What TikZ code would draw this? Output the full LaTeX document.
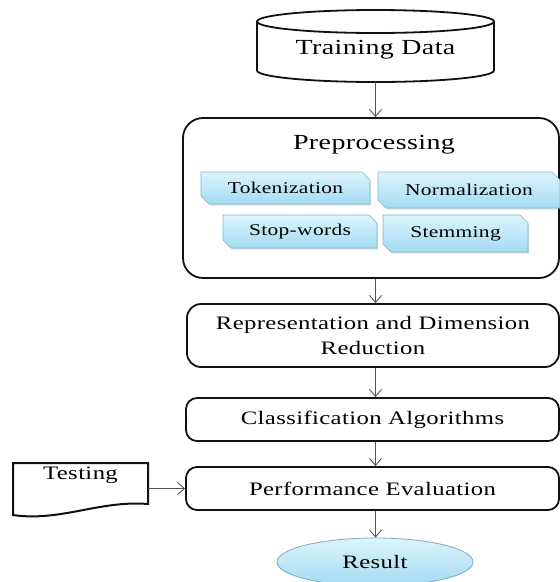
\documentclass[tikz,border=0pt]{standalone}
\usepackage{fontspec}
\setmainfont[FakeStretch=1.3,LetterSpace=2]{Liberation Serif}
\usetikzlibrary{arrows.meta,shapes.misc,shapes.geometric,shadows}

\definecolor{boxline}{HTML}{111111}
\definecolor{arrowgray}{HTML}{555555}
\definecolor{cyanTop}{HTML}{DDF4FD}
\definecolor{cyanBot}{HTML}{A2DBF2}
\definecolor{cyanEdge}{HTML}{80B6CC}

\tikzset{
  flowbox/.style={draw=boxline, line width=1.8pt, rounded corners=11pt,
    inner sep=0pt, align=center, font=\fontsize{19}{25}\selectfont},
  arr/.style={draw=arrowgray, line width=0.9pt,
    -{Straight Barb[length=7pt,width=12pt]}},
  tagbox/.style={chamfered rectangle,
    chamfered rectangle corners={north east,south west},
    chamfered rectangle xsep=4pt, chamfered rectangle ysep=4pt,
    draw=cyanEdge, line width=0.7pt, top color=cyanTop, bottom color=cyanBot,
    inner sep=0pt, font=\fontsize{16.5}{19}\selectfont,
    drop shadow={opacity=0.25, shadow xshift=1pt, shadow yshift=-1.5pt}},
  outline/.style={draw=boxline, line width=1.8pt}
}

\begin{document}
\begin{tikzpicture}[x=1pt, y=-1pt]
  \useasboundingbox[fill=white] (0,0) rectangle (560,582);

  % cylinder holding the training data
  \node[inner sep=0pt, minimum width=237pt, minimum height=72pt] (train) at (375.5,46) {};
  \draw[outline, fill=white] (257,21.5) -- (257,70.5)
    arc[start angle=180, end angle=360, x radius=118.5pt, y radius=11.5pt]
    -- (494,21.5);
  \draw[outline] (375.5,21.5) ellipse [x radius=118.5pt, y radius=11.5pt];
  \node[font=\fontsize{21.5}{25}\selectfont] (traintext) at (375.5,50) {Training Data};

  % preprocessing block with its four steps
  \node[flowbox, rounded corners=20pt, minimum width=376pt, minimum height=160pt]
    (pre) at (371,198) {};
  \node[font=\fontsize{21.5}{25}\selectfont] (pretitle) at (374,145) {Preprocessing};
  \node[tagbox, minimum width=169pt, minimum height=32pt] (tok) at (285.5,188) {Tokenization};
  \node[tagbox, minimum width=182pt, minimum height=36pt] (norm) at (469,190) {Normalization};
  \node[tagbox, minimum width=154pt, minimum height=33pt] (stop) at (300,231.5) {Stop-words};
  \node[tagbox, minimum width=145pt, minimum height=37pt] (stem) at (455.5,233.5) {Stemming};

  % remaining stages
  \node[flowbox, rounded corners=14pt, minimum width=372pt, minimum height=63pt]
    (rep) at (373,335.5) {Representation and Dimension\\Reduction};
  \node[flowbox, minimum width=373pt, minimum height=43pt]
    (cls) at (372.5,419.5) {Classification Algorithms};
  \node[flowbox, minimum width=373pt, minimum height=43pt]
    (perf) at (372.5,488.5) {Performance Evaluation};

  % testing document
  \node[inner sep=0pt, minimum width=135pt, minimum height=53pt] (test) at (80.5,489.5) {};
  \draw[outline, line width=2pt] (13,463) -- (148,463) -- (148,504)
    .. controls (100,500) and (60,522) .. (13,515) -- cycle;
  \node[font=\fontsize{19}{22}\selectfont] (testtext) at (80.5,475) {Testing};

  % result
  \node[ellipse, draw=cyanEdge!80!gray, line width=0.8pt, top color=cyanTop,
        bottom color=cyanBot, minimum width=196pt, minimum height=48pt, inner sep=0pt,
        font=\fontsize{19}{22}\selectfont] (res) at (375,562) {Result};

  % connectors
  \draw[arr] (train.south) -- (train.south |- pre.north);
  \draw[arr] (pre.south -| train.south) -- (rep.north -| train.south);
  \draw[arr] (rep.south -| train.south) -- (cls.north -| train.south);
  \draw[arr] (cls.south -| train.south) -- (perf.north -| train.south);
  \draw[arr] (perf.south -| train.south) -- (res.north -| train.south);
  \draw[arr] (test.east |- perf.west) -- (perf.west);
\end{tikzpicture}
\end{document}
